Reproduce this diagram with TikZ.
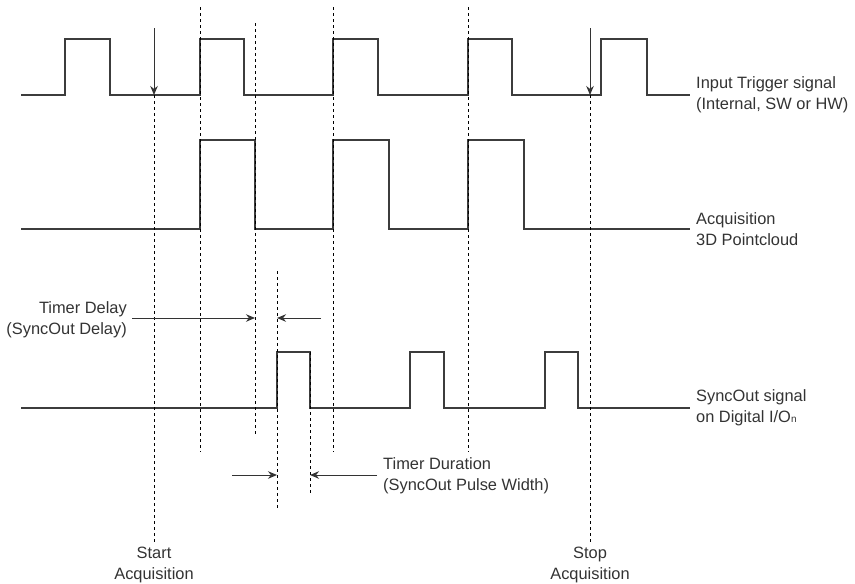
\documentclass[tikz,border=0pt]{standalone}
\usepackage{fontspec}
\setmainfont{Liberation Sans}
\usetikzlibrary{arrows.meta}
\definecolor{ink}{HTML}{333333}
\definecolor{wave}{HTML}{3C3C3C}
\begin{document}
\begin{tikzpicture}[x=1pt,y=-1pt,
  sig/.style={draw=wave, line width=1.1pt, line join=miter},
  guide/.style={draw=black, line width=0.8pt, dash pattern=on 3pt off 3pt},
  arr/.style={draw=ink, line width=1pt, -{Stealth[length=9pt,width=7.5pt]}},
  lbl/.style={font=\fontsize{16.4}{20.5}\selectfont, text=ink, inner sep=0pt}]
\useasboundingbox (0,0) rectangle (855,584);
% label nodes
\node[lbl, anchor=west, align=left] (ltrig) at (696,95) {Input Trigger signal\\(Internal, SW or HW)};
\node[lbl, anchor=west, align=left] (lacq) at (696,229) {Acquisition\\3D Pointcloud};
\node[lbl, anchor=west, align=left] (lsync) at (696,408) {SyncOut signal\\on Digital I/O{\fontsize{10}{10}\selectfont n}};
\node[lbl, anchor=east, align=right] (ldelay) at (127,320) {Timer Delay\\(SyncOut Delay)};
\node[lbl, anchor=west, align=left] (ldur) at (383,476) {Timer Duration\\(SyncOut Pulse Width)};
\node[lbl, anchor=north, align=center] (lstart) at (154,547) {Start\\Acquisition};
\node[lbl, anchor=north, align=center] (lstop) at (590,547) {Stop\\Acquisition};
% coordinates
\coordinate (trigEnd) at (690,95);
\coordinate (acqEnd) at (690,229);
\coordinate (syncEnd) at (690,408);
% signals
\path[sig] (21,95) -| (65,39) -| (110,95) -| (200,39) -| (244,95) -| (333,39) -| (378,95) -| (468,39) -| (512,95) -| (601,39) -| (647,95) -- (trigEnd);
\path[sig] (21,229) -| (200,140) -| (255,229) -| (333,140) -| (389,229) -| (468,140) -| (524,229) -- (acqEnd);
\path[sig] (21,408) -| (277,352) -| (310,408) -| (410,352) -| (444,408) -| (545,352) -| (578,408) -- (syncEnd);
% guide lines
\coordinate (startTop) at (154,95);
\coordinate (startBot) at (154,542);
\coordinate (stopTop) at (590,95);
\coordinate (stopBot) at (590,542);
\coordinate (g1t) at (200,7);   \coordinate (g1b) at (200,452);
\coordinate (g2t) at (255,23);  \coordinate (g2b) at (255,435);
\coordinate (g3t) at (333,7);   \coordinate (g3b) at (333,452);
\coordinate (g4t) at (468,7);   \coordinate (g4b) at (468,452);
\coordinate (g5t) at (277,271); \coordinate (g5b) at (277,508);
\coordinate (g6t) at (310,352); \coordinate (g6b) at (310,495);
\draw[guide] (startTop) -- (startBot);
\draw[guide] (stopTop) -- (stopBot);
\draw[guide] (g1t) -- (g1b);
\draw[guide] (g2t) -- (g2b);
\draw[guide] (g3t) -- (g3b);
\draw[guide] (g4t) -- (g4b);
\draw[guide] (g5t) -- (g5b);
\draw[guide] (g6t) -- (g6b);
% trigger arrows
\coordinate (a1) at (154,28);
\coordinate (a2) at (590,28);
\draw[arr] (a1) -- (startTop);
\draw[arr] (a2) -- (stopTop);
% delay arrows
\coordinate (d1) at (132,318); \coordinate (d1e) at (255,318);
\coordinate (d2) at (321,318); \coordinate (d2e) at (277,318);
\draw[arr] (d1) -- (d1e);
\draw[arr] (d2) -- (d2e);
% duration arrows
\coordinate (u1) at (232,475); \coordinate (u1e) at (277,475);
\coordinate (u2) at (377,475); \coordinate (u2e) at (310,475);
\draw[arr] (u1) -- (u1e);
\draw[arr] (u2) -- (u2e);
\end{tikzpicture}
\end{document}
